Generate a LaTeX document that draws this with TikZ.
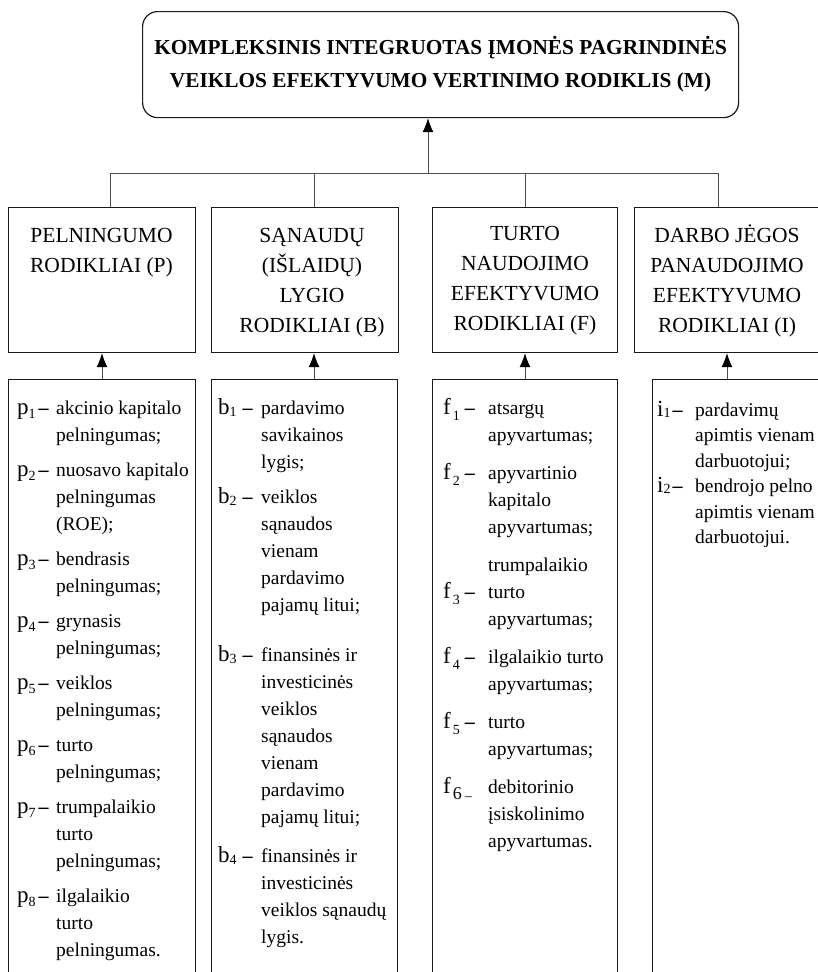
\documentclass[tikz,border=0pt]{standalone}
\usepackage{fontspec}
\setmainfont{Liberation Serif}
\usetikzlibrary{arrows.meta}
\newcommand{\lbl}[4]{{\fontsize{23}{23}\selectfont #1}\hspace{#4}\raisebox{#3}{\fontsize{14}{14}\selectfont #2}}
\newcommand{\dsh}{\textbf{–}}
\newcommand{\linesL}[1]{\begin{tabular}[t]{@{}l@{}}#1\end{tabular}}
\newcommand{\linesC}[1]{\begin{tabular}[t]{@{}c@{}}#1\end{tabular}}
\begin{document}
\begin{tikzpicture}[x=1pt,y=-1pt,
  conn/.style={draw=black!70, line width=0.8pt},
  arr/.style={conn, -{Latex[length=14pt,width=11pt,color=black]}},
  frame/.style={draw=black!90, line width=1.2pt, inner sep=0pt, anchor=north west},
  cattext/.style={anchor=base, inner sep=0pt, font=\fontsize{21.5}{30}\selectfont},
  itemtext/.style={anchor=base west, inner sep=0pt, font=\fontsize{19.5}{27}\selectfont},
  itemtextb/.style={itemtext, font=\fontsize{19.5}{25.5}\selectfont},
  lab/.style={anchor=base west, inner sep=0pt, font=\fontsize{20}{27}\selectfont}
]
\useasboundingbox (0,0) rectangle (817,972);

% top box
\node[frame, rounded corners=15pt, minimum width=596pt, minimum height=106pt,
      align=center, font=\bfseries\fontsize{21.3}{33}\selectfont] (M) at (142,11)
  {KOMPLEKSINIS INTEGRUOTAS ĮMONĖS PAGRINDINĖS\\VEIKLOS EFEKTYVUMO VERTINIMO RODIKLIS (M)};

% category boxes
\node[frame, minimum width=187pt, minimum height=145pt] (P) at (8,207) {};
\node[frame, minimum width=187pt, minimum height=145pt] (B) at (211,207) {};
\node[frame, minimum width=185pt, minimum height=145pt] (F) at (432,207) {};
\node[frame, minimum width=190pt, minimum height=145pt] (I) at (634,207) {};

\node[cattext] (Pt) at (101.5,242) {\linesC{PELNINGUMO\\RODIKLIAI (P)}};
\node[cattext] (Bt) at (312,242) {\linesC{SĄNAUDŲ\\(IŠLAIDŲ)\\LYGIO\\RODIKLIAI (B)}};
\node[cattext] (Ft) at (525,240) {\linesC{TURTO\\NAUDOJIMO\\EFEKTYVUMO\\RODIKLIAI (F)}};
\node[cattext] (It) at (727,242) {\linesC{DARBO JĖGOS\\PANAUDOJIMO\\EFEKTYVUMO\\RODIKLIAI (I)}};

% detail boxes
\node[frame, minimum width=187pt, minimum height=640pt] (dP) at (8,379) {};
\node[frame, minimum width=186pt, minimum height=640pt] (dB) at (211,379) {};
\node[frame, minimum width=185pt, minimum height=640pt] (dF) at (432,379) {};
\node[frame, minimum width=190pt, minimum height=640pt] (dI) at (652,379) {};

% connectors top
\coordinate (hL) at (110,173);
\coordinate (hB) at (314,173);
\coordinate (hF) at (525,173);
\coordinate (hR) at (718,173);
\coordinate (hM) at (428,173);
\draw[conn] (hL) -- (hR);
\draw[arr] (hM) -- (hM |- M.south);
\draw[conn] (hL) -- (hL |- P.north);
\draw[conn] (hB) -- (hB |- B.north);
\draw[conn] (hF) -- (hF |- F.north);
\draw[conn] (hR) -- (hR |- I.north);

% connectors from detail boxes
\coordinate (aP) at (102,379);
\coordinate (aB) at (314,379);
\coordinate (aF) at (525,379);
\coordinate (aI) at (727,379);
\draw[arr] (aP) -- (aP |- P.south);
\draw[arr] (aB) -- (aB |- B.south);
\draw[arr] (aF) -- (aF |- F.south);
\draw[arr] (aI) -- (aI |- I.south);

% column P
\node[lab] (p1) at (17,414) {\lbl{p}{1}{-4pt}{0pt}\hspace{3pt}\dsh};
\node[itemtext] (p1t) at (56,414) {\linesL{akcinio kapitalo\\pelningumas;}};
\node[lab] (p2) at (17,476) {\lbl{p}{2}{-4pt}{0pt}\hspace{3pt}\dsh};
\node[itemtext] (p2t) at (56,476) {\linesL{nuosavo kapitalo\\pelningumas\\(ROE);}};
\node[lab] (p3) at (17,565) {\lbl{p}{3}{-4pt}{0pt}\hspace{3pt}\dsh};
\node[itemtext] (p3t) at (56,565) {\linesL{bendrasis\\pelningumas;}};
\node[lab] (p4) at (17,627) {\lbl{p}{4}{-4pt}{0pt}\hspace{3pt}\dsh};
\node[itemtext] (p4t) at (56,627) {\linesL{grynasis\\pelningumas;}};
\node[lab] (p5) at (17,689) {\lbl{p}{5}{-4pt}{0pt}\hspace{3pt}\dsh};
\node[itemtext] (p5t) at (56,689) {\linesL{veiklos\\pelningumas;}};
\node[lab] (p6) at (17,751) {\lbl{p}{6}{-4pt}{0pt}\hspace{3pt}\dsh};
\node[itemtext] (p6t) at (56,751) {\linesL{turto\\pelningumas;}};
\node[lab] (p7) at (17,813) {\lbl{p}{7}{-4pt}{0pt}\hspace{3pt}\dsh};
\node[itemtext] (p7t) at (56,813) {\linesL{trumpalaikio\\turto\\pelningumas;}};
\node[lab] (p8) at (17,902) {\lbl{p}{8}{-4pt}{0pt}\hspace{3pt}\dsh};
\node[itemtext] (p8t) at (56,902) {\linesL{ilgalaikio\\turto\\pelningumas.}};

% column B
\node[lab] (b1) at (218,414) {\lbl{b}{1}{-2pt}{0pt}\hspace{6pt}\dsh};
\node[itemtext] (b1t) at (261,414) {\linesL{pardavimo\\savikainos\\lygis;}};
\node[lab] (b2) at (218,503) {\lbl{b}{2}{-2pt}{0pt}\hspace{6pt}\dsh};
\node[itemtext] (b2t) at (261,503) {\linesL{veiklos\\sąnaudos\\vienam\\pardavimo\\pajamų litui;}};
\node[lab] (b3) at (218,661) {\lbl{b}{3}{-2pt}{0pt}\hspace{6pt}\dsh};
\node[itemtext] (b3t) at (261,661) {\linesL{finansinės ir\\investicinės\\veiklos\\sąnaudos\\vienam\\pardavimo\\pajamų litui;}};
\node[lab] (b4) at (218,862) {\lbl{b}{4}{-2pt}{0pt}\hspace{6pt}\dsh};
\node[itemtext] (b4t) at (261,862) {\linesL{finansinės ir\\investicinės\\veiklos sąnaudų\\lygis.}};

% column F
\node[lab] (f1) at (443,414) {\lbl{f}{1}{-6pt}{2pt}\hspace{5pt}\dsh};
\node[itemtext] (f1t) at (488,414) {\linesL{atsargų\\apyvartumas;}};
\node[lab] (f2) at (443,479) {\lbl{f}{2}{-6pt}{2pt}\hspace{5pt}\dsh};
\node[itemtext] (f2t) at (488,479) {\linesL{apyvartinio\\kapitalo\\apyvartumas;}};
\node[lab] (f3) at (443,598) {\lbl{f}{3}{-6pt}{2pt}\hspace{5pt}\dsh};
\node[itemtext] (f3t) at (488,571) {\linesL{trumpalaikio\\turto\\apyvartumas;}};
\node[lab] (f4) at (443,663) {\lbl{f}{4}{-6pt}{2pt}\hspace{5pt}\dsh};
\node[itemtext] (f4t) at (488,663) {\linesL{ilgalaikio turto\\apyvartumas;}};
\node[lab] (f5) at (443,728) {\lbl{f}{5}{-6pt}{2pt}\hspace{5pt}\dsh};
\node[itemtext] (f5t) at (488,728) {\linesL{turto\\apyvartumas;}};
\node[lab] (f6) at (443,793) {\lbl{f}{\fontsize{18}{18}\selectfont 6}{-6pt}{2pt}\hspace{3pt}\raisebox{-7pt}{\fontsize{14}{14}\selectfont –}};
\node[itemtext] (f6t) at (488,793) {\linesL{debitorinio\\įsiskolinimo\\apyvartumas.}};

% column I
\node[lab] (i1) at (657,416) {\lbl{i}{1}{-1pt}{0pt}\hspace{2pt}\dsh};
\node[itemtextb] (i1t) at (695,416) {\linesL{pardavimų\\apimtis vienam\\darbuotojui;}};
\node[lab] (i2) at (657,492.5) {\lbl{i}{2}{-1pt}{0pt}\hspace{2pt}\dsh};
\node[itemtextb] (i2t) at (695,492.5) {\linesL{bendrojo pelno\\apimtis vienam\\darbuotojui.}};
\end{tikzpicture}
\end{document}
